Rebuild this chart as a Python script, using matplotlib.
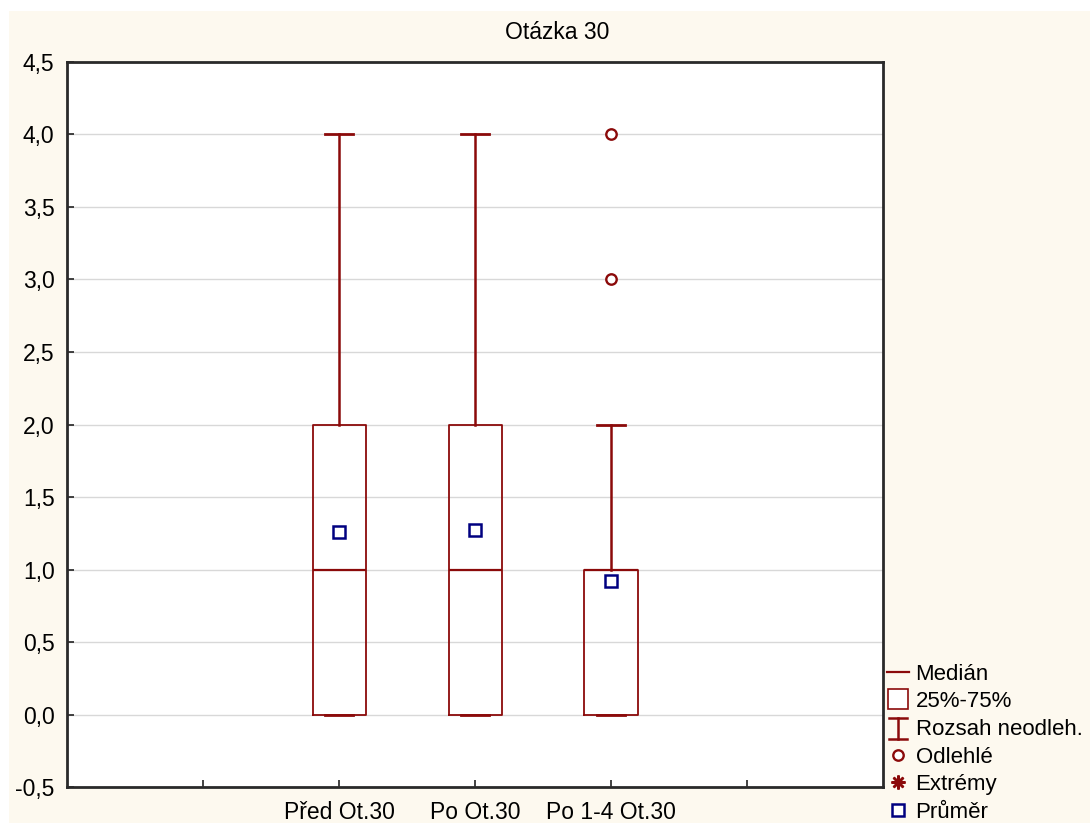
import matplotlib.pyplot as plt
from matplotlib.lines import Line2D
from matplotlib.patches import Rectangle
from matplotlib.legend_handler import HandlerBase

plt.rcParams['font.family'] = ['Liberation Sans', 'DejaVu Sans']

# data
categories = ['Před Ot.30', 'Po Ot.30', 'Po 1-4 Ot.30']
positions = [2, 3, 4]
q1 = [0.0, 0.0, 0.0]
medians = [1.0, 1.0, 1.0]
q3 = [2.0, 2.0, 1.0]
whisker_low = [0.0, 0.0, 0.0]
whisker_high = [4.0, 4.0, 2.0]
means = [1.26, 1.27, 0.92]
outliers = [[], [], [4.0, 3.0]]

legend_labels = ['Medián', '25%-75%', 'Rozsah neodleh.', 'Odlehlé', 'Extrémy', 'Průměr']

red = '#8b0a0a'
navy = '#000080'
cream = '#fdf9ef'
fs = 16.5


class HandlerWhisker(HandlerBase):
    def create_artists(self, legend, orig_handle, xdescent, ydescent,
                       width, height, fontsize, trans):
        cx = width / 2 - xdescent
        top = height * 1.1 - ydescent
        bot = -height * 0.25 - ydescent
        cw = width * 0.4
        arts = [
            Line2D([cx, cx], [bot, top], color=red, lw=1.8),
            Line2D([cx - cw, cx + cw], [top, top], color=red, lw=1.8),
            Line2D([cx - cw, cx + cw], [bot, bot], color=red, lw=1.8),
        ]
        for a in arts:
            a.set_transform(trans)
        return arts


fig = plt.figure(figsize=(10.9, 8.23), dpi=100)
fig.patch.set_facecolor('white')
fig.patches.append(Rectangle((9 / 1090, 0), 1 - 9 / 1090, 1 - 11 / 823,
                             transform=fig.transFigure, facecolor=cream,
                             edgecolor='none', zorder=-10))

ax = fig.add_axes([0.0615, 0.0437, 0.7486, 0.881])
ax.set_facecolor('white')

stats = []
for i in range(len(categories)):
    stats.append({
        'label': categories[i],
        'q1': q1[i], 'med': medians[i], 'q3': q3[i],
        'whislo': whisker_low[i], 'whishi': whisker_high[i],
        'mean': means[i], 'fliers': outliers[i],
    })

ax.bxp(stats, positions=positions, widths=0.39, capwidths=0.2,
       showmeans=True, showfliers=True, manage_ticks=False,
       boxprops=dict(color=red, lw=1.3),
       medianprops=dict(color=red, lw=1.6),
       whiskerprops=dict(color=red, lw=1.8),
       capprops=dict(color=red, lw=2.0),
       flierprops=dict(marker='o', markerfacecolor='white', markeredgecolor=red,
                       markersize=7.5, markeredgewidth=1.7),
       meanprops=dict(marker='s', markerfacecolor='white', markeredgecolor=navy,
                      markersize=8.5, markeredgewidth=1.8))

ax.set_xlim(0, 6)
ax.set_ylim(-0.5, 4.5)
ax.set_xticks([1, 2, 3, 4, 5])
ax.set_xticklabels([''] + categories + [''])
yt = [-0.5 + 0.5 * k for k in range(11)]
ax.set_yticks(yt)
ax.set_yticklabels([f'{v:.1f}'.replace('.', ',') for v in yt])
ax.tick_params(axis='both', direction='in', length=5, width=1.2, labelsize=fs,
               colors='#222222', labelcolor='black')
ax.tick_params(axis='y', pad=9)
ax.tick_params(axis='x', pad=10)
ax.yaxis.grid(True, color='#d8d8d8', lw=1.0)
ax.set_axisbelow(True)
for s in ax.spines.values():
    s.set_linewidth(2.0)
    s.set_color('#2a2a2a')

fig.text(0.511, 0.961, 'Otázka 30', ha='center', va='center', fontsize=fs)

handles = [
    Line2D([], [], color=red, lw=1.6),
    Line2D([], [], marker='s', ls='none', markersize=15, markerfacecolor='white',
           markeredgecolor=red, markeredgewidth=1.2),
    Line2D([], []),
    Line2D([], [], marker='o', ls='none', markersize=7.5, markerfacecolor='white',
           markeredgecolor=red, markeredgewidth=1.7),
    Line2D([], [], marker=(8, 2, 0), ls='none', markersize=10, color=red,
           markeredgewidth=1.8),
    Line2D([], [], marker='s', ls='none', markersize=8.5, markerfacecolor='white',
           markeredgecolor=navy, markeredgewidth=1.8),
]
fig.legend(handles, legend_labels, loc='center left',
           bbox_to_anchor=(0.8135, 0.097), frameon=False, fontsize=16,
           handlelength=1.0, handletextpad=0.3, labelspacing=0.3,
           borderpad=0, borderaxespad=0,
           handler_map={handles[2]: HandlerWhisker()})

fig.savefig('out.png', dpi=100, facecolor=fig.get_facecolor())
